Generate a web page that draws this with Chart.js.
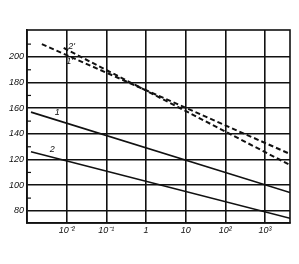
<!DOCTYPE html>
<html>
<head>
<meta charset="utf-8">
<script src="https://cdn.jsdelivr.net/npm/chart.js@4/dist/chart.umd.min.js"></script>
<style>
html, body { margin: 0; padding: 0; background: #fff; }
</style>
</head>
<body>
<canvas id="chart" width="299" height="264"></canvas>
<script>
// curves 1, 2 (solid) and 1', 2' (dashed), straight on the log axis
const curve1X = [0.00126, 4266];
const curve1Y = [157, 94.3];
const curve2X = [0.00126, 4266];
const curve2Y = [126.2, 74.3];
const curve1pX = [0.00237, 4266];
const curve1pY = [210, 124.4];
const curve2pX = [0.0084, 4266];
const curve2pY = [207, 115.8];

// ticks
const xTicks = [0.01, 0.1, 1, 10, 100, 1000];
const xTickLabels = ['10⁻²', '10⁻¹', '1', '10', '10²', '10³'];
const yTicks = [80, 100, 120, 140, 160, 180, 200];
const yMinorTicks = [90, 110, 130, 150, 170, 190, 210];

// curve numbers written in the plot
const curveNames = ['1', '2', "1'", "2'"];
const nameX = [0.0058, 0.0043, 0.0119, 0.0133];
const nameY = [156.4, 127.5, 196.3, 208.5];

const ink = '#111';
const labelFont = { family: 'Liberation Sans', size: 9, style: 'italic' };

function pts(xs, ys) {
    return xs.map((x, i) => ({ x: x, y: ys[i] }));
}

function line(xs, ys, dashed) {
    return {
        data: pts(xs, ys),
        borderColor: ink,
        borderWidth: dashed ? 2 : 1.6,
        borderDash: dashed ? [5, 3] : [],
        pointRadius: 0,
        fill: false,
        tension: 0
    };
}

// frame, small inner ticks and curve numbers
const extras = {
    id: 'extras',
    afterDraw(chart) {
        const ctx = chart.ctx;
        const a = chart.chartArea;
        const xs = chart.scales.x, ys = chart.scales.y;
        ctx.save();
        ctx.strokeStyle = ink;
        ctx.lineWidth = 1.6;
        ctx.strokeRect(a.left, a.top, a.right - a.left, a.bottom - a.top);
        ctx.lineWidth = 1.2;
        yMinorTicks.forEach(v => {
            const y = ys.getPixelForValue(v);
            ctx.beginPath();
            ctx.moveTo(a.left, y);
            ctx.lineTo(a.left + 4, y);
            ctx.stroke();
        });
        ctx.fillStyle = ink;
        ctx.font = 'italic 9px "Liberation Sans"';
        ctx.textAlign = 'center';
        ctx.textBaseline = 'middle';
        curveNames.forEach((t, i) => {
            ctx.fillText(t, xs.getPixelForValue(nameX[i]), ys.getPixelForValue(nameY[i]));
        });
        ctx.restore();
    }
};

new Chart(document.getElementById('chart'), {
    type: 'line',
    data: {
        datasets: [
            line(curve1X, curve1Y, false),
            line(curve2X, curve2Y, false),
            line(curve1pX, curve1pY, true),
            line(curve2pX, curve2pY, true)
        ]
    },
    options: {
        responsive: false,
        animation: false,
        devicePixelRatio: 1,
        layout: { padding: { top: 30, right: 9, left: 0, bottom: 0 } },
        plugins: { legend: { display: false }, tooltip: { enabled: false } },
        scales: {
            x: {
                type: 'logarithmic',
                min: 0.001,
                max: 4266,
                afterBuildTicks: s => { s.ticks = xTicks.map(v => ({ value: v })); },
                afterFit: s => { s.height = 41; },
                grid: { color: ink, lineWidth: 1.6, drawTicks: false },
                border: { color: ink, width: 1.6 },
                ticks: {
                    autoSkip: false,
                    maxRotation: 0,
                    padding: 2,
                    color: ink,
                    font: labelFont,
                    callback: v => xTickLabels[xTicks.indexOf(v)]
                }
            },
            y: {
                type: 'linear',
                min: 70.6,
                max: 221,
                afterBuildTicks: s => { s.ticks = yTicks.map(v => ({ value: v })); },
                afterFit: s => { s.width = 27; },
                grid: { color: ink, lineWidth: 1.6, drawTicks: false },
                border: { color: ink, width: 1.6 },
                ticks: {
                    padding: 3,
                    color: ink,
                    font: labelFont,
                    callback: v => String(v)
                }
            }
        }
    },
    plugins: [extras]
});
</script>
</body>
</html>
